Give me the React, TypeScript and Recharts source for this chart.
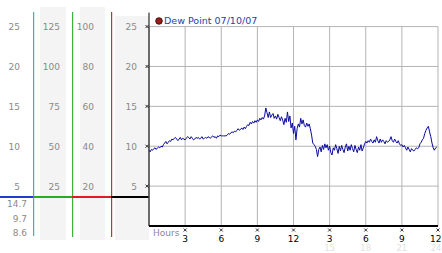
import React from 'react';
import { LineChart, Line, XAxis, YAxis, CartesianGrid, ReferenceLine, Legend } from 'recharts';

// Dew point readings, ten per hour (every 6 minutes) starting at midnight
const dewPoint = [
  9.5, 9.3, 9.6, 9.5, 9.7, 9.8, 9.6, 9.8, 9.9, 9.8,
  10.0, 9.9, 10.2, 10.4, 10.6, 10.3, 10.5, 10.7, 10.6, 10.9,
  10.8, 11.0, 11.1, 10.9, 10.7, 10.9, 11.1, 10.8, 11.0, 10.9,
  10.8, 11.0, 11.2, 11.1, 10.9, 11.2, 11.0, 10.8, 10.9, 11.1,
  11.0, 11.1, 10.9, 11.0, 11.2, 10.9, 11.0, 11.1, 11.0, 11.2,
  11.1, 11.0, 11.2, 11.3, 11.1, 11.2, 11.0, 11.3, 11.2, 11.4,
  11.3, 11.3, 11.3, 11.3, 11.3, 11.4, 11.6, 11.5, 11.7, 11.8,
  11.7, 11.9, 11.8, 12.0, 12.2, 12.0, 12.1, 12.3, 12.1, 12.4,
  12.2, 12.5, 12.7, 12.6, 13.0, 12.8, 13.1, 12.9, 13.2, 13.0,
  13.3, 13.1, 13.5, 13.3, 13.6, 13.4, 13.8, 14.8, 14.2, 13.6,
  14.3, 13.6, 13.9, 14.1, 13.5, 13.8, 13.4, 14.0, 13.6, 13.2,
  13.7, 13.3, 12.7, 13.5, 13.0, 14.3, 13.1, 13.8, 12.3, 12.9,
  11.6, 12.5, 10.8, 12.2, 12.8, 12.4, 13.5, 12.8, 13.3, 12.6,
  12.4, 12.9, 12.5, 12.8, 12.2, 11.4, 10.4, 10.2, 10.0, 9.6,
  8.7, 9.6, 9.9, 9.3, 10.1, 9.6, 10.3, 9.8, 10.2, 9.5,
  10.0, 9.2, 8.9, 9.8, 9.5, 10.2, 9.7, 9.1, 10.0, 9.4,
  10.1, 9.6, 9.2, 9.9, 10.3, 9.4, 10.0, 9.5, 10.2, 9.7,
  9.3, 10.1, 9.6, 9.2, 9.9, 9.5, 10.2, 9.4, 9.8, 10.3,
  10.6, 10.4, 10.7, 10.5, 10.9, 10.6, 10.4, 10.8, 10.5, 11.2,
  10.7, 10.4, 10.9, 10.5, 10.8, 10.6, 10.3, 10.7, 10.5, 10.6,
  10.8, 11.2, 10.7, 10.5, 10.9, 10.6, 10.4, 10.7, 10.3, 10.1,
  10.2, 9.9, 10.1, 9.8, 9.5, 9.9, 9.6, 9.3, 9.7, 9.5,
  9.4, 9.6, 9.8, 9.7, 9.8, 10.3, 10.5, 10.8, 11.0, 11.6,
  12.0, 12.3, 12.5, 11.8, 11.2, 10.4, 9.8, 9.5, 9.8, 9.9,
];
const hours = dewPoint.map((_, i) => i / 10);
const data = dewPoint.map((v, i) => ({ hour: hours[i], dew: v }));

const hourTicks = [3, 6, 9, 12, 15, 18, 21, 24];
const hourLabels = ['3', '6', '9', '12', '3', '6', '9', '12'];
const faintLabels = ['', '', '', '', '15', '18', '21', '24'];
const dewTicks = [5, 10, 15, 20, 25];
const scaleA = [25, 50, 75, 100, 125];
const scaleB = [20, 40, 60, 80, 100];
const readings = ['14.7', '9.7', '8.6'];
const legendLabel = 'Dew Point 07/10/07';

const FONT = '"DejaVu Sans", Verdana, sans-serif';
const GRAY = '#8a8a8a';

const XMark = ({ cx, cy }: { cx: number; cy: number }) => (
  <path
    d={`M${cx - 1.5},${cy - 1.5}L${cx + 1.5},${cy + 1.5}M${cx + 1.5},${cy - 1.5}L${cx - 1.5},${cy + 1.5}`}
    stroke="#000"
    strokeWidth={0.8}
  />
);

const makeYTick = (offset: number, mark: boolean) => (props: any) => {
  const { x, y, payload } = props;
  return (
    <g>
      <text x={x - offset} y={y + 3.5} textAnchor="end" fill={GRAY} fontSize={9} fontFamily={FONT}>
        {payload.value}
      </text>
      {mark && <XMark cx={x - 2} cy={y} />}
    </g>
  );
};

const XTick = (props: any) => {
  const { x, y, payload, index } = props;
  const found = hourTicks.indexOf(payload.value);
  const i = found >= 0 ? found : index;
  const last = i === hourTicks.length - 1;
  const tx = last ? x + 3.5 : x;
  const anchor = last ? 'end' : 'middle';
  return (
    <g>
      <XMark cx={x} cy={y + 4} />
      <text x={tx} y={y + 16} textAnchor={anchor} fill="#000" fontSize={9} fontFamily={FONT}>
        {hourLabels[i]}
      </text>
      <text x={tx} y={y + 24.5} textAnchor={anchor} fill="#e2e2e2" fontSize={8.5} fontFamily={FONT}>
        {faintLabels[i]}
      </text>
    </g>
  );
};

const HoursLabel = (props: any) => {
  const { viewBox } = props;
  return (
    <text x={viewBox.x + 4} y={viewBox.y + 10} fill={GRAY} fontSize={9} fontFamily={FONT}>
      Hours
    </text>
  );
};

const LegendContent = () => (
  <div style={{ display: 'flex', alignItems: 'center', fontFamily: FONT, fontSize: 9.5, color: '#2a3cb4', whiteSpace: 'nowrap' }}>
    <svg width={8} height={8} style={{ marginRight: 1 }}>
      <circle cx={4} cy={4} r={3.3} fill="#9a1c1c" stroke="#300" strokeWidth={0.8} />
    </svg>
    <span>{legendLabel}</span>
  </div>
);

const Background = () => (
  <svg width={442} height={253} style={{ position: 'absolute', left: 0, top: 0 }}>
    <rect x={40} y={7} width={26} height={233} fill="#f4f4f4" />
    <rect x={80} y={7} width={25} height={233} fill="#f4f4f4" />
    <rect x={115} y={16} width={34} height={224} fill="#f4f4f4" />
    <rect x={33} y={12} width={1.2} height={224} fill="#34b0d8" />
    <rect x={72} y={12} width={1.2} height={225} fill="#3cb43c" />
    <rect x={111} y={12} width={1.2} height={225} fill="#c83030" />
    <rect x={0} y={196} width={33} height={2} fill="#1b3fd6" />
    <rect x={33} y={196} width={39} height={2} fill="#22b022" />
    <rect x={72} y={196} width={39} height={2} fill="#e01c1c" />
    <rect x={111} y={196} width={38} height={2} fill="#000" />
    {readings.map((r, i) => (
      <text key={r} x={27} y={207 + i * 14.5} textAnchor="end" fill={GRAY} fontSize={9} fontFamily={FONT}>
        {r}
      </text>
    ))}
  </svg>
);

const axisCommon = {
  type: 'number' as const,
  tickSize: 0,
  tickMargin: 0,
  tickLine: false,
  axisLine: false,
  allowDataOverflow: true,
  interval: 0 as const,
};

export default function App() {
  return (
    <div style={{ position: 'absolute', left: 0, top: 0, width: 442, height: 253, background: '#fff' }}>
      <Background />
      <div style={{ position: 'absolute', left: 0, top: 0 }}>
        <LineChart width={442} height={253} data={data} margin={{ top: 26.6, right: 4, bottom: 0, left: 0 }}>
          <CartesianGrid yAxisId="y1" stroke="#b4b4b4" strokeWidth={1} />
          <XAxis
            dataKey="hour"
            type="number"
            domain={[0, 24]}
            ticks={hourTicks}
            interval={0}
            height={27}
            tickSize={0}
            tickMargin={0}
            tickLine={false}
            axisLine={{ stroke: '#000', strokeWidth: 2 }}
            tick={<XTick />}
            label={<HoursLabel />}
          />
          <YAxis yAxisId="y1" {...axisCommon} domain={[0, 25]} ticks={dewTicks} width={38} tick={makeYTick(12, true)} />
          <YAxis yAxisId="y2" {...axisCommon} domain={[0, 100]} ticks={scaleB} width={39} tick={makeYTick(17, false)} />
          <YAxis yAxisId="y3" {...axisCommon} domain={[0, 125]} ticks={scaleA} width={39} tick={makeYTick(12, false)} />
          <YAxis yAxisId="y4" {...axisCommon} domain={[0, 25]} ticks={dewTicks} width={33} tick={makeYTick(13, false)} />
          <ReferenceLine
            yAxisId="y1"
            segment={[{ x: 0, y: 0 }, { x: 0, y: 26.75 }]}
            ifOverflow="visible"
            stroke="#000"
            strokeWidth={1}
          />
          <Legend layout="horizontal" verticalAlign="middle" align="center" wrapperStyle={{ top: 15, left: 155, width: 'auto' }} content={<LegendContent />} />
          <Line yAxisId="y1" type="linear" dataKey="dew" stroke="#0a0aa0" strokeWidth={1} dot={false} isAnimationActive={false} />
        </LineChart>
      </div>
    </div>
  );
}
